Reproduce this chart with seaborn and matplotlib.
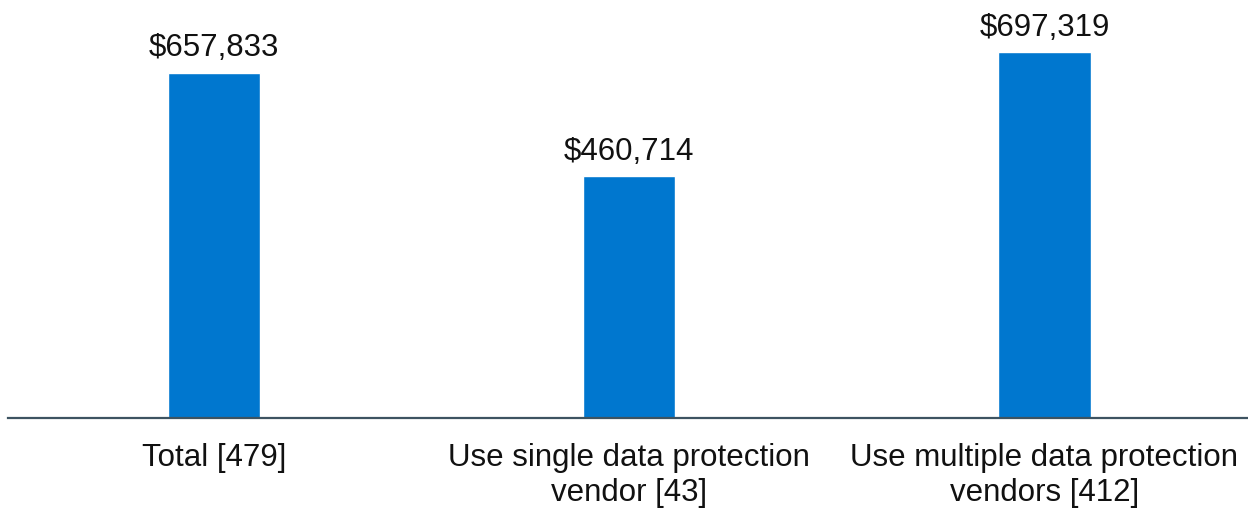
import matplotlib
matplotlib.use("Agg")
import matplotlib.pyplot as plt
import seaborn as sns
import pandas as pd

categories = ["Total [479]",
              "Use single data protection\nvendor [43]",
              "Use multiple data protection\nvendors [412]"]
values = [657833, 460714, 697319]

df = pd.DataFrame({"group": categories, "cost": values})

sns.set_theme(style="white")
plt.rcParams["font.family"] = ["Liberation Sans", "DejaVu Sans"]

fig = plt.figure(figsize=(12.48, 5.08), dpi=100)
ax = fig.add_axes([0.0065, 0.177, 0.9935, 0.823])

sns.barplot(data=df, x="group", y="cost", color="#0077CF", saturation=1,
            width=0.222, ax=ax)

ax.set_xlim(-0.495, 2.49)
ax.set_ylim(0, 797000)

for i, v in enumerate(values):
    ax.annotate(f"${v:,.0f}", xy=(i, v), xytext=(0, 7), textcoords="offset points",
                ha="center", va="bottom", fontsize=22.5, color="#111111")

for side in ["top", "right", "left"]:
    ax.spines[side].set_visible(False)
ax.spines["bottom"].set_color("#3d5361")
ax.spines["bottom"].set_linewidth(1.6)

ax.set_yticks([])
ax.set_xlabel("")
ax.set_ylabel("")
ax.tick_params(axis="x", length=0, pad=18, labelsize=22.5, labelcolor="#111111")
for lbl in ax.get_xticklabels():
    lbl.set_linespacing(1.2)

fig.savefig("out.png", dpi=100)
